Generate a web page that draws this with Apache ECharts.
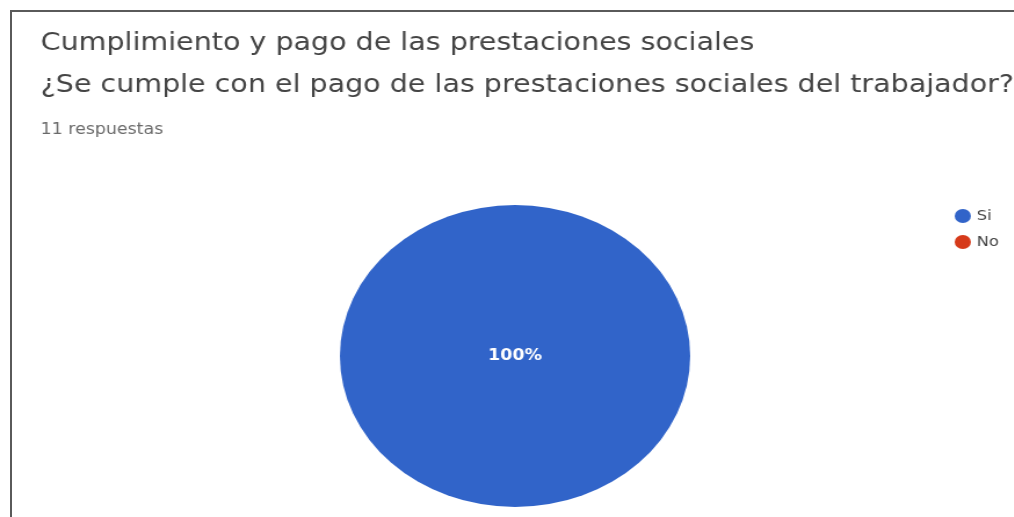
<!DOCTYPE html>
<html>
<head>
<meta charset="utf-8">
<script src="https://cdn.jsdelivr.net/npm/echarts@6/dist/echarts.min.js"></script>
<style>
  html, body { margin: 0; padding: 0; background: #ffffff; overflow: hidden; width: 1014px; height: 517px; }
  #frame { position: absolute; left: 10px; top: 10px; width: 1010px; height: 520px; border-left: 2px solid #5a5a5a; border-top: 2px solid #5a5a5a; box-sizing: border-box; }
  #chart { position: absolute; left: 0; top: 0; width: 874px; height: 517px; transform: scaleX(1.16); transform-origin: 0 0; }
</style>
</head>
<body>
<div id="frame"></div>
<div id="chart"></div>
<script>
const titleText = 'Cumplimiento y pago de las prestaciones sociales';
const questionText = '¿Se cumple con el pago de las prestaciones sociales del trabajador?';
const responsesText = '11 respuestas';
const categories = ['Si', 'No'];
const values = [11, 0];
const colors = ['#3164c9', '#d63a1a'];

const chart = echarts.init(document.getElementById('chart'), null, { renderer: 'canvas' });
const data = categories.map((c, i) => ({
  name: c,
  value: values[i],
  itemStyle: { color: colors[i] },
  label: { show: values[i] > 0 }
}));
chart.setOption({
  backgroundColor: 'transparent',
  animation: false,
  title: [
    { text: titleText, left: 30, top: 26, textStyle: { fontFamily: 'DejaVu Sans', fontSize: 24.6, fontWeight: 'normal', color: '#444444' } },
    { text: questionText, left: 30, top: 68, textStyle: { fontFamily: 'DejaVu Sans', fontSize: 24.6, fontWeight: 'normal', color: '#444444' } },
    { text: responsesText, left: 30, top: 118, textStyle: { fontFamily: 'DejaVu Sans', fontSize: 15, fontWeight: 'normal', color: '#6a6a6a' } }
  ],
  legend: {
    orient: 'vertical',
    left: 818,
    top: 204,
    icon: 'circle',
    itemWidth: 14,
    itemHeight: 14,
    itemGap: 12,
    itemStyle: { borderWidth: 0 },
    textStyle: { fontFamily: 'DejaVu Sans', fontSize: 14, color: '#444444' },
    data: categories
  },
  series: [{
    type: 'pie',
    center: [444, 356],
    radius: 151,
    startAngle: 90,
    clockwise: true,
    silent: true,
    label: {
      position: 'center',
      formatter: '{d}%',
      color: '#ffffff',
      fontFamily: 'DejaVu Sans',
      fontSize: 15,
      fontWeight: 'bold'
    },
    labelLine: { show: false },
    itemStyle: { borderWidth: 0 },
    data: data
  }]
});
</script>
</body>
</html>
